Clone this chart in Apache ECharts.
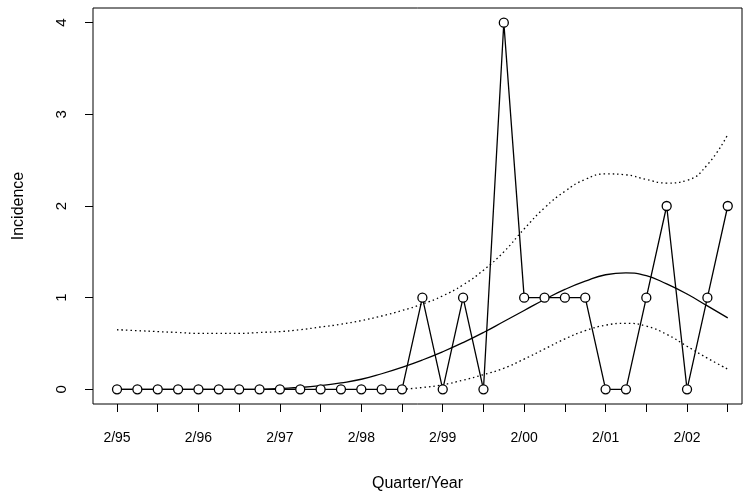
<!DOCTYPE html>
<html><head><meta charset="utf-8">
<script src="https://cdn.jsdelivr.net/npm/echarts@6/dist/echarts.min.js"></script>
<style>html,body{margin:0;padding:0;background:#fff}#c{width:743px;height:492px}</style>
</head><body><div id="c"></div>
<script>
// quarterly incidence, index 0 = 2/95
const tickLabels = ["2/95", "2/96", "2/97", "2/98", "2/99", "2/00", "2/01", "2/02"];
const incidence = [0,0,0,0,0,0,0,0,0,0,0,0,0,0,0,1,0,1,0,4,1,1,1,1,0,0,1,2,0,1,2];
const fitted = [0,0,0,0,0,0,0,0,0.01,0.02,0.04,0.07,0.11,0.17,0.24,0.32,0.41,0.51,0.62,0.74,0.86,0.98,1.09,1.18,1.25,1.27,1.24,1.15,1.04,0.91,0.78];
const upper = [0.65,0.64,0.63,0.62,0.61,0.61,0.61,0.62,0.63,0.65,0.68,0.71,0.75,0.8,0.86,0.93,1.02,1.14,1.3,1.5,1.75,1.98,2.16,2.29,2.35,2.34,2.29,2.25,2.28,2.45,2.78];
const lower = [null,null,null,null,null,null,null,null,null,null,null,null,null,null,0.0,0.02,0.05,0.1,0.16,0.23,0.33,0.44,0.55,0.64,0.7,0.72,0.69,0.6,0.47,0.34,0.22];

const pts = a => a.map((v, i) => [i, v]).filter(p => p[1] !== null);
const chart = echarts.init(document.getElementById('c'));
const font = 'Liberation Sans';
chart.setOption({
  animation: false,
  textStyle: { fontFamily: font },
  grid: { left: 93, right: 1, top: 8, bottom: 88, outerBoundsMode: 'none', containLabel: false,
    show: true, borderColor: '#000', borderWidth: 1 },
  xAxis: {
    type: 'value', min: -1.18, max: 30.7, interval: 2,
    name: 'Quarter/Year', nameLocation: 'middle', nameGap: 72,
    nameTextStyle: { color: '#000', fontSize: 16 },
    axisLine: { show: false, onZero: false },
    axisTick: { show: true, length: 8, lineStyle: { color: '#000' }, customValues: [0,2,4,6,8,10,12,14,16,18,20,22,24,26,28,30] },
    axisLabel: {
      color: '#000', fontSize: 14, margin: 27,
      customValues: [0,4,8,12,16,20,24,28],
      formatter: v => tickLabels[v / 4]
    },
    splitLine: { show: false }
  },
  yAxis: {
    type: 'value', min: -0.16, max: 4.16,
    name: 'Incidence', nameLocation: 'middle', nameGap: 66,
    nameTextStyle: { color: '#000', fontSize: 16 },
    axisLine: { show: false, onZero: false },
    axisTick: { show: true, length: 8, lineStyle: { color: '#000' }, customValues: [0,1,2,3,4] },
    axisLabel: { color: '#000', fontSize: 15, rotate: 90, margin: 24, customValues: [0,1,2,3,4] },
    splitLine: { show: false }
  },
  series: [
    { type: 'line', data: pts(upper), smooth: true, symbol: 'none', lineStyle: { color: '#000', width: 1.3, type: [1.5, 3] } },
    { type: 'line', data: pts(lower), smooth: true, symbol: 'none', lineStyle: { color: '#000', width: 1.3, type: [1.5, 3] } },
    { type: 'line', data: pts(fitted), smooth: true, symbol: 'none', lineStyle: { color: '#000', width: 1.3 } },
    { type: 'line', data: pts(incidence), symbol: 'circle', symbolSize: 9,
      itemStyle: { color: '#fff', borderColor: '#000', borderWidth: 1.3 },
      lineStyle: { color: '#000', width: 1.3 } }
  ]
});
</script></body></html>
